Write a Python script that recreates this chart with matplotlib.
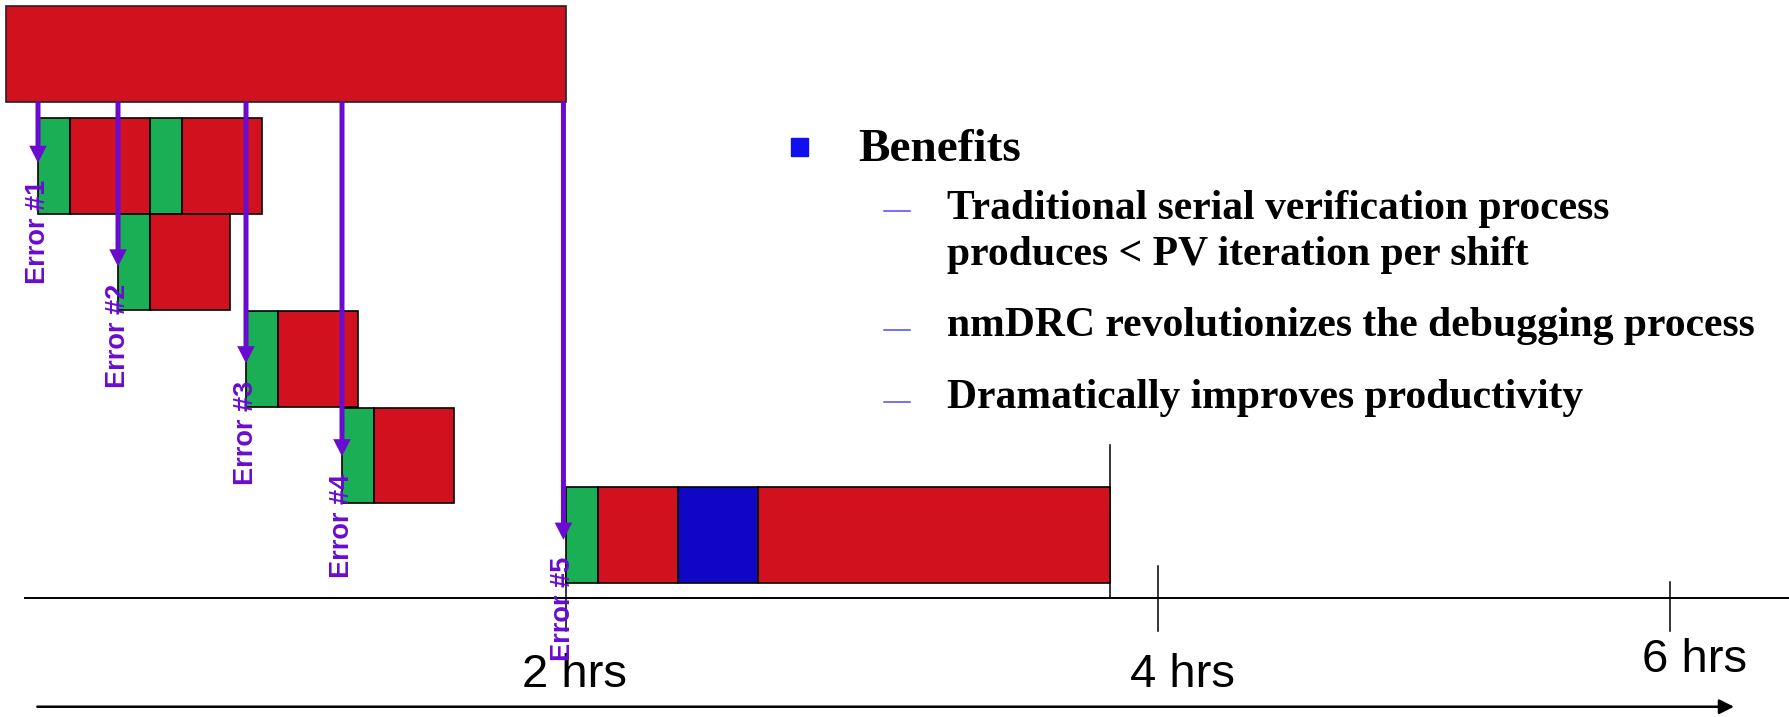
import matplotlib.pyplot as plt
from matplotlib.patches import Rectangle
from matplotlib.lines import Line2D

# colours for each kind of run
colors = {'run': '#d2111e', 'fix': '#1aaf55', 'debug': '#1206c6'}
PURPLE = '#6a0cd0'

# time in slots (one quick fix = 1 slot), rows counted downwards
first_run = (0.0, 17.5)
row_tops = [1.17, 2.17, 3.18, 4.19, 5.02]
row_starts = [1.0, 3.5, 7.5, 10.5, 17.5]
row_widths = [[1, 2.5, 1, 2.5], [1, 2.5], [1, 2.5], [1, 2.5], [1, 2.5, 2.5, 11]]
row_kinds = [['fix', 'run', 'fix', 'run'], ['fix', 'run'], ['fix', 'run'],
             ['fix', 'run'], ['fix', 'run', 'debug', 'run']]

error_x = [1.0, 3.5, 7.5, 10.5, 17.42]
error_tip = [1.64, 2.72, 3.73, 4.70, 5.57]
error_labels = ['Error #1', 'Error #2', 'Error #3', 'Error #4', 'Error #5']

tick_x = [17.5, 36.0, 52.0]
tick_top = [5.84, 5.84, 6.01]
tick_labels = ['2 hrs', '4 hrs', '6 hrs']
label_x = [17.78, 36.77, 52.78]
label_y = [7.10, 7.10, 6.95]

benefits_title = 'Benefits'
benefits = [['Traditional serial verification process',
             'produces < PV iteration per shift'],
            ['nmDRC revolutionizes the debugging process'],
            ['Dramatically improves productivity']]

W, H = 1790, 717
fig = plt.figure(figsize=(W / 100, H / 100), dpi=100)
ax = fig.add_axes([0, 0, 1, 1])
ax.set_xlim(-6 / 32, (W - 6) / 32)
ax.set_ylim((H - 5.7) / 95.9, -5.7 / 95.9)
ax.axis('off')

# full verification run
ax.add_patch(Rectangle((first_run[0], 0), first_run[1], 1, facecolor=colors['run'],
                       edgecolor='#222222', lw=1.2, zorder=2))

# incremental runs after each error
for top, start, widths, kinds in zip(row_tops, row_starts, row_widths, row_kinds):
    x = start
    for w, k in zip(widths, kinds):
        ax.add_patch(Rectangle((x, top), w, 1, facecolor=colors[k],
                               edgecolor='black', lw=1.2, zorder=2))
        x += w

# time axis and ticks
ax.plot([0.6, 60], [6.18, 6.18], color='black', lw=1.4, zorder=1)
end_x = row_starts[-1] + sum(row_widths[-1])
ax.plot([end_x, end_x], [4.58, 6.18], color='black', lw=1.1, zorder=1)
for x, t in zip(tick_x, tick_top):
    ax.plot([x, x], [t, 6.52], color='black', lw=1.1, zorder=1)
for x, y, s in zip(label_x, label_y, tick_labels):
    ax.text(x, y, s, ha='center', va='baseline', fontsize=34,
            family='Liberation Sans', zorder=3)

ax.annotate('', xy=(54.0, 7.31), xytext=(0.98, 7.31),
            arrowprops=dict(arrowstyle='-|>', color='black', lw=1.8,
                            mutation_scale=22, shrinkA=0, shrinkB=0))

# error arrows
for x, tip, s in zip(error_x, error_tip, error_labels):
    ax.arrow(x, 1.0, 0, tip - 1.0, width=5 / 32, head_width=0.55,
             head_length=0.18, length_includes_head=True,
             color=PURPLE, lw=0, zorder=4)
    ax.text(x, tip + 0.18, s, rotation=90, ha='center', va='top', fontsize=19.5,
            fontweight='bold', color=PURPLE, family='Liberation Sans', zorder=5)

# benefits list
fig.patches.append(Rectangle((791 / W, 1 - 156 / H), 17 / W, 18 / H,
                             transform=fig.transFigure, color='#1010ee'))
fig.text(858 / W, 1 - 161 / H, benefits_title, fontsize=34, fontweight='bold',
         family='Liberation Serif', va='baseline')
item_y = [[219.5, 265], [336], [408.5]]
dash_y = [211, 330, 402]
for lines, ys, dy in zip(benefits, item_y, dash_y):
    fig.lines.append(Line2D([884 / W, 910 / W], [1 - dy / H, 1 - dy / H],
                            transform=fig.transFigure, color='#4a4af5', lw=1.1))
    for s, y in zip(lines, ys):
        fig.text(947 / W, 1 - y / H, s, fontsize=30, fontweight='bold',
                 family='Liberation Serif', va='baseline')

fig.savefig('out.png', dpi=100)
